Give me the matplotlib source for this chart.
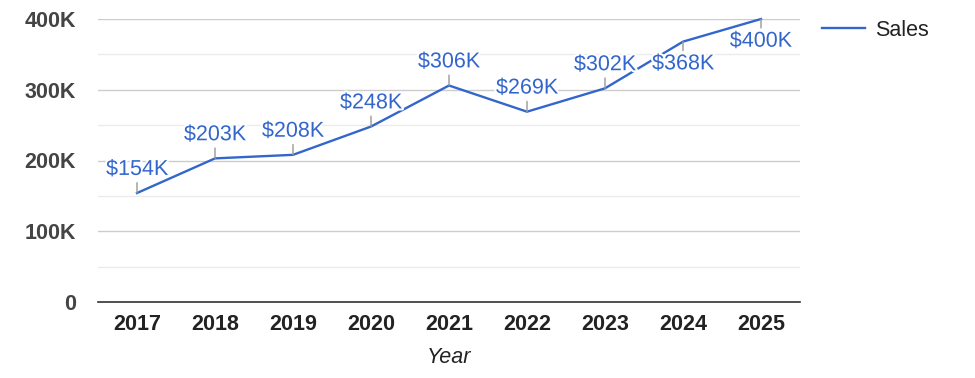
import matplotlib.pyplot as plt
import matplotlib.patheffects as pe
from matplotlib.ticker import MultipleLocator, FuncFormatter

years = [2017, 2018, 2019, 2020, 2021, 2022, 2023, 2024, 2025]
sales = [154000, 203000, 208000, 248000, 306000, 269000, 302000, 368000, 400000]
sales_labels = ['$154K', '$203K', '$208K', '$248K', '$306K', '$269K', '$302K', '$368K', '$400K']

plt.rcParams['font.family'] = ['Liberation Sans', 'DejaVu Sans']
blue = '#3366cc'

fig = plt.figure(figsize=(9.75, 3.78), dpi=100)
ax = fig.add_axes([98 / 975, 1 - 302 / 378, 702 / 975, 283 / 378])

line, = ax.plot(years, sales, color=blue, lw=1.7, clip_on=False, zorder=3, label='Sales')

# data labels with short leader lines, flipped below near the top
for x, y, txt in zip(years, sales, sales_labels):
    off = -16 if y > 350000 else 17
    ax.annotate(txt, (x, y), xytext=(0, off), textcoords='offset points',
                ha='center', va='center', fontsize=15.5, color=blue, zorder=4,
                path_effects=[pe.withStroke(linewidth=3, foreground='white')],
                arrowprops=dict(arrowstyle='-', color='#999999', lw=1,
                                shrinkA=0, shrinkB=0))

ax.set_xlim(2016.5, 2025.5)
ax.set_ylim(0, 400000)
ax.set_xticks(years)
ax.yaxis.set_major_locator(MultipleLocator(100000))
ax.yaxis.set_minor_locator(MultipleLocator(50000))
ax.yaxis.set_major_formatter(FuncFormatter(lambda v, p: '0' if v == 0 else f'{int(v / 1000)}K'))
ax.grid(axis='y', which='major', color='#cccccc', lw=1)
ax.grid(axis='y', which='minor', color='#ebebeb', lw=1)
ax.set_axisbelow(True)

for s in ['top', 'right', 'left']:
    ax.spines[s].set_visible(False)
ax.spines['bottom'].set_color('#333333')
ax.spines['bottom'].set_linewidth(1.2)
ax.spines['bottom'].set_zorder(5)

ax.tick_params(axis='both', which='both', length=0)
ax.tick_params(axis='y', pad=16, labelsize=15.5, labelcolor='#444444')
ax.tick_params(axis='x', pad=9, labelsize=15.5, labelcolor='#222222')
for lbl in ax.get_xticklabels() + ax.get_yticklabels():
    lbl.set_fontweight('bold')

ax.set_xlabel('Year', fontsize=15.5, style='italic', color='#222222', labelpad=8)

fig.legend(handles=[line], loc='center left', bbox_to_anchor=(822 / 975, 1 - 30 / 378),
           frameon=False, fontsize=15.5, handlelength=2.0, handletextpad=0.45,
           borderpad=0, borderaxespad=0, labelcolor='#222222')

fig.savefig('out.png', dpi=100)
